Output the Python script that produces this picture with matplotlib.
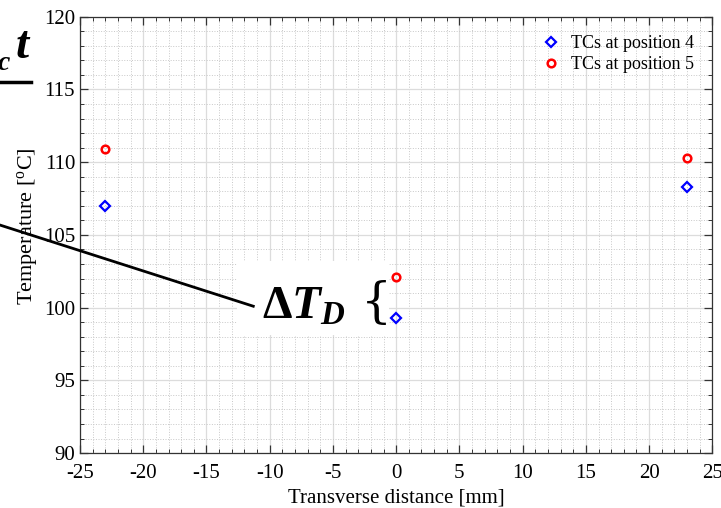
import matplotlib.pyplot as plt
from matplotlib.patches import Rectangle
from matplotlib.lines import Line2D
from matplotlib.ticker import MultipleLocator

plt.rcParams['font.family'] = ['Liberation Serif', 'DejaVu Serif']
plt.rcParams['axes.unicode_minus'] = False
plt.rcParams['mathtext.fontset'] = 'custom'
plt.rcParams['mathtext.rm'] = 'Liberation Serif:bold'
plt.rcParams['mathtext.it'] = 'Liberation Serif:bold:italic'

# TC readings, transverse distance [mm] vs temperature [degC]
x_pos = [-23, 0, 23]
temp_pos4 = [107.0, 99.3, 108.3]
temp_pos5 = [110.9, 102.1, 110.3]

fig = plt.figure(figsize=(7.21, 5.08), dpi=100)
ax = fig.add_axes([0.111, 0.108, 0.877, 0.859])

ax.plot(x_pos, temp_pos4, linestyle='none', marker='D', markersize=5,
        markerfacecolor='none', markeredgecolor='#0000ff', markeredgewidth=1.6,
        label='TCs at position 4', zorder=5)
ax.plot(x_pos, temp_pos5, linestyle='none', marker='o', markersize=5.5,
        markerfacecolor='none', markeredgecolor='#ff0000', markeredgewidth=1.8,
        label='TCs at position 5', zorder=5)

ax.set_xlim(-25, 25)
ax.set_ylim(90, 120)
ax.xaxis.set_major_locator(MultipleLocator(5))
ax.xaxis.set_minor_locator(MultipleLocator(1))
ax.yaxis.set_major_locator(MultipleLocator(5))
ax.yaxis.set_minor_locator(MultipleLocator(1))
ax.grid(which='major', color='#dcdcdc', linewidth=0.9)
ax.grid(which='minor', color='#c8c8c8', linestyle=':', linewidth=0.7)
ax.set_axisbelow(True)
ax.tick_params(which='both', direction='in', top=True, right=True,
               colors='#333333', labelcolor='black', labelsize=15)
ax.tick_params(which='major', length=6, width=0.9)
ax.tick_params(which='minor', length=3, width=0.7)
ax.tick_params(axis='x', pad=8)
for s in ax.spines.values():
    s.set_color('#333333')
    s.set_linewidth(0.9)

ax.set_xlabel('Transverse distance [mm]', fontsize=15, labelpad=4)
ax.set_ylabel('Temperature [$^{\\mathregular{o}}$C]', fontsize=16)
ax.yaxis.set_label_coords(-0.064, 0.52)

leg = ax.legend(loc='upper right', frameon=False, fontsize=13,
                handlelength=1.2, handletextpad=0.5, borderaxespad=0.6,
                labelspacing=0.25, borderpad=0.4)

# white box behind the delta-T label
ax.add_patch(Rectangle((-12.6, 98.1), 12.0, 5.1, facecolor='white',
                       edgecolor='none', zorder=3, clip_on=False))
ax.text(-10.6, 100.0, r'$\mathrm{\Delta}T_D$', fontsize=34, ha='left',
        va='center', zorder=4)
ax.text(-1.6, 100.3, '{', fontsize=35, ha='center', va='center', zorder=4,
        family='DejaVu Serif', fontweight='light')

# pointer line coming in from the left
ax.add_line(Line2D([-31.4, -11.3], [105.7, 100.1], color='black',
                   linewidth=2, clip_on=False, zorder=4))

# cropped fraction fragment at top-left
fig.text(0.021, 0.908, '$t$', fontsize=34, ha='left', va='center')
fig.text(-0.004, 0.875, '$c$', fontsize=20, ha='left', va='center')
fig.add_artist(Line2D([0.0, 0.043], [0.838, 0.838], color='black',
                      linewidth=2.5, transform=fig.transFigure))

fig.savefig('out.png', dpi=100)
